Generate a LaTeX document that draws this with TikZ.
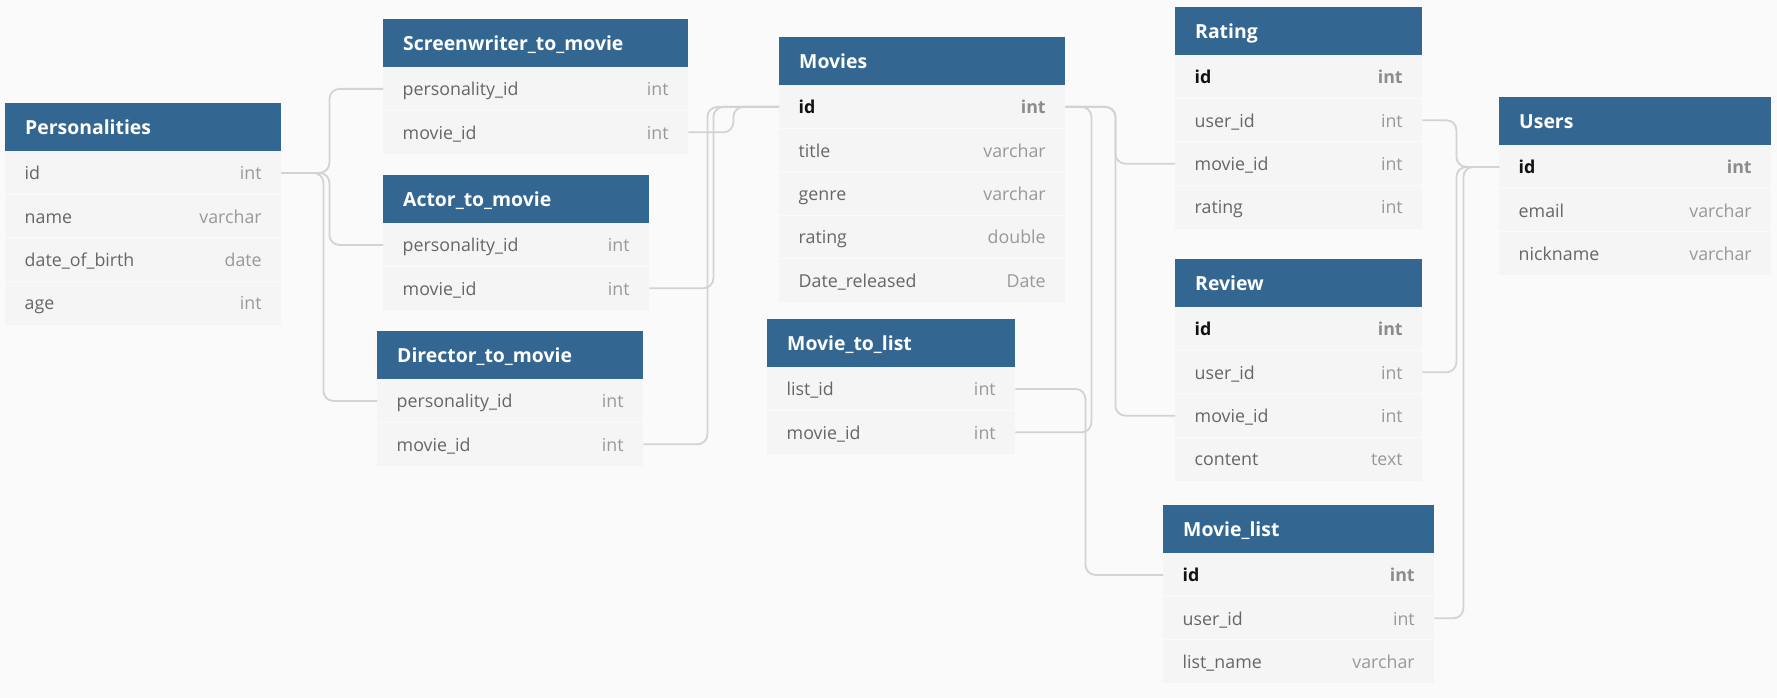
\documentclass[tikz,border=0pt]{standalone}
\usepackage{fontspec}
\setmainfont{Open Sans}
\usetikzlibrary{calc}
\definecolor{bg}{HTML}{FAFAFA}
\definecolor{hdr}{RGB}{51,103,145}
\definecolor{rowbg}{HTML}{F5F5F5}
\definecolor{sepc}{HTML}{FAFAFA}
\definecolor{fldc}{HTML}{666666}
\definecolor{typc}{HTML}{999999}
\definecolor{keyc}{HTML}{111111}
\definecolor{keyt}{HTML}{8C8C8C}
\definecolor{lnc}{HTML}{D3D3D3}
\newcommand\fldn[1]{\textcolor{fldc}{#1}}
\newcommand\fldk[1]{\textcolor{keyc}{\bfseries #1}}
\newcommand\typn[1]{\textcolor{typc}{#1}}
\newcommand\typk[1]{\textcolor{keyt}{\bfseries #1}}
\tikzset{
  hdbox/.style={fill=hdr, minimum height=48pt, inner xsep=20pt, inner ysep=0pt,
    align=left, text=white, font=\bfseries\fontsize{19.4}{21}\selectfont,
    text height=13.8pt, text depth=0pt, anchor=north west},
  rowbox/.style={fill=rowbg, minimum height=43.4pt, inner xsep=19.5pt, inner ysep=0pt,
    align=left, font=\fontsize{17.8}{20}\selectfont,
    text height=13.5pt, text depth=0pt, anchor=north west},
  rowsep/.style={draw=sepc, line width=1pt},
  conn/.style={draw=lnc, line width=1.8pt, rounded corners=10pt}
}
\newcommand\ertable[6]{%
  \pgfmathsetmacro\hw{#4-40}%
  \pgfmathsetmacro\rw{#4-39}%
  \node[hdbox, text width=\hw pt] (#1) at (#2,#3) {#5};
  \foreach \nm/\f/\t/\k [count=\i from 0] in {#6} {
    \node[rowbox, text width=\rw pt] (#1-\nm) at (#2,{#3+48+\i*43.4})
      {\noindent\csname fld\k\endcsname{\f}\hfill\csname typ\k\endcsname{\t}};
    \ifnum\i>0 \draw[rowsep] (#1-\nm.north west) -- (#1-\nm.north east);\fi
  }
}
\begin{document}
\begin{tikzpicture}[x=1pt,y=-1pt]
\fill[bg] (0,0) rectangle (1777,698);
\useasboundingbox (0,0) rectangle (1777,698);

\ertable{pers}{5}{103}{276}{Personalities}{id/id/int/n, name/name/varchar/n, dob/date\_of\_birth/date/n, age/age/int/n}
\ertable{scr}{383}{19}{305}{Screenwriter\_to\_movie}{pid/personality\_id/int/n, mid/movie\_id/int/n}
\ertable{act}{383}{175}{266}{Actor\_to\_movie}{pid/personality\_id/int/n, mid/movie\_id/int/n}
\ertable{dir}{377}{331}{266}{Director\_to\_movie}{pid/personality\_id/int/n, mid/movie\_id/int/n}
\ertable{mov}{779}{37}{286}{Movies}{id/id/int/k, title/title/varchar/n, genre/genre/varchar/n, rating/rating/double/n, date/Date\_released/Date/n}
\ertable{mtl}{767}{319}{248}{Movie\_to\_list}{lid/list\_id/int/n, mid/movie\_id/int/n}
\ertable{rat}{1175}{7}{247}{Rating}{id/id/int/k, uid/user\_id/int/n, mid/movie\_id/int/n, rating/rating/int/n}
\ertable{usr}{1499}{97}{272}{Users}{id/id/int/k, email/email/varchar/n, nick/nickname/varchar/n}
\ertable{rev}{1175}{259}{247}{Review}{id/id/int/k, uid/user\_id/int/n, mid/movie\_id/int/n, content/content/text/n}
\ertable{ml}{1163}{505}{271}{Movie\_list}{id/id/int/k, uid/user\_id/int/n, lname/list\_name/varchar/n}

% connectors
\draw[conn] (pers-id.east) -- ++(48,0) |- (scr-pid.west);
\draw[conn] (pers-id.east) -- ++(48,0) |- (act-pid.west);
\draw[conn] (pers-id.east) -- ++(42,0) |- (dir-pid.west);
\draw[conn] (scr-mid.east) -- ++(45,0) |- (mov-id.west);
\draw[conn] (act-mid.east) -- ++(64,0) |- (mov-id.west);
\draw[conn] (dir-mid.east) -- ++(64,0) |- (mov-id.west);
\draw[conn] (mov-id.east) -- ++(50,0) |- (rat-mid.west);
\draw[conn] (mov-id.east) -- ++(50,0) |- (rev-mid.west);
\draw[conn] (mov-id.east) -- ++(26,0) |- (mtl-mid.east);
\draw[conn] (mtl-lid.east) -- ++(70,0) |- (ml-id.west);
\draw[conn] (rat-uid.east) -- ++(34,0) |- (usr-id.west);
\draw[conn] (rev-uid.east) -- ++(34,0) |- (usr-id.west);
\draw[conn] (ml-uid.east) -- ++(29,0) |- (usr-id.west);
\end{tikzpicture}
\end{document}
